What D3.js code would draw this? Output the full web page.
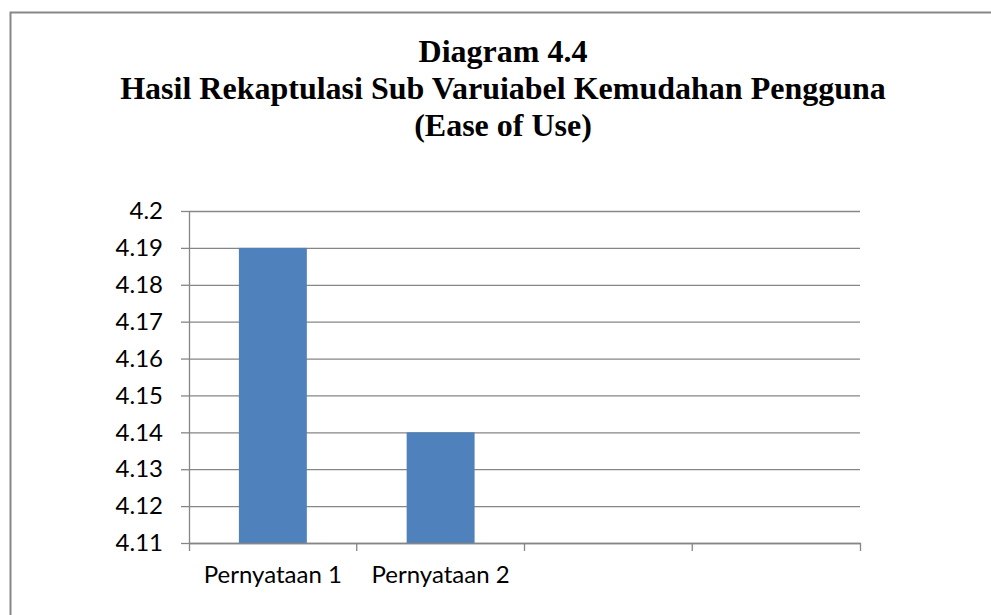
<!DOCTYPE html>
<html>
<head>
<meta charset="utf-8">
<script src="https://cdn.jsdelivr.net/npm/d3@7"></script>
<style>
  html, body { margin: 0; padding: 0; background: #fff; overflow: hidden; }
</style>
</head>
<body>
<div id="chart"></div>
<script>
// chart data
const titleLines = ["Diagram 4.4", "Hasil Rekaptulasi Sub Varuiabel Kemudahan Pengguna", "(Ease of Use)"];
const categories = ["Pernyataan 1", "Pernyataan 2", "slot 3", "slot 4"];
const categoryLabels = ["Pernyataan 1", "Pernyataan 2", "", ""];
const values = [4.19, 4.14, null, null];
const yTicks = [4.11, 4.12, 4.13, 4.14, 4.15, 4.16, 4.17, 4.18, 4.19, 4.2];

// dimensions
const width = 991, height = 615;
const margin = {top: 211, right: 131, bottom: 72, left: 189};

const svg = d3.select("#chart").append("svg")
  .attr("width", width)
  .attr("height", height);

// outer frame (runs off the right and bottom edge like the original)
svg.append("rect")
  .attr("x", 10.5).attr("y", 12.5)
  .attr("width", 1100).attr("height", 800)
  .attr("fill", "none")
  .attr("stroke", "#878787")
  .attr("stroke-width", 2);

// title
svg.append("g")
  .selectAll("text")
  .data(titleLines)
  .join("text")
    .attr("x", 503)
    .attr("y", (d, i) => 62 + i * 37)
    .attr("text-anchor", "middle")
    .attr("font-family", "'Liberation Serif', 'Times New Roman', serif")
    .attr("font-weight", "bold")
    .attr("font-size", 32)
    .attr("fill", "#000")
    .text(d => d);

const x = d3.scaleBand()
  .domain(categories)
  .range([margin.left, width - margin.right])
  .padding(0);

const y = d3.scaleLinear()
  .domain([4.11, 4.2])
  .range([height - margin.bottom, margin.top]);

const gridColor = "#868686";
const fontSans = "Lato, 'Open Sans', sans-serif";

// horizontal grid lines
svg.append("g")
  .attr("transform", `translate(${margin.left},0)`)
  .call(d3.axisLeft(y).tickValues(yTicks).tickSize(-(width - margin.right - margin.left)).tickFormat(""))
  .call(g => g.select(".domain").remove())
  .call(g => g.selectAll(".tick line").attr("stroke", gridColor).attr("stroke-width", 1.3));

// bars
const barFrac = 0.405;
svg.append("g")
  .selectAll("rect")
  .data(categories.map((c, i) => ({c, v: values[i]})).filter(d => d.v != null))
  .join("rect")
    .attr("x", d => x(d.c) + x.bandwidth() * (1 - barFrac) / 2)
    .attr("width", x.bandwidth() * barFrac)
    .attr("y", d => y(d.v))
    .attr("height", d => y(4.11) - y(d.v))
    .attr("fill", "#4f81bd");

// y axis
svg.append("g")
  .attr("transform", `translate(${margin.left},0)`)
  .call(d3.axisLeft(y).tickValues(yTicks).tickSize(8).tickSizeOuter(0).tickPadding(18)
    .tickFormat(d => String(+d.toFixed(2))))
  .call(g => g.select(".domain").attr("stroke", gridColor).attr("stroke-width", 1.3))
  .call(g => g.selectAll(".tick line").attr("stroke", gridColor).attr("stroke-width", 1.3))
  .call(g => g.selectAll("text")
    .attr("font-family", fontSans).attr("font-size", 24).attr("fill", "#000"));

// x axis
const xAxisG = svg.append("g")
  .attr("transform", `translate(0,${height - margin.bottom})`)
  .call(d3.axisBottom(x).tickSize(0).tickSizeOuter(8)
    .tickFormat((d, i) => categoryLabels[i]))
  .call(g => g.select(".domain").attr("stroke", gridColor).attr("stroke-width", 1.3))
  .call(g => g.selectAll("text")
    .attr("y", 40).attr("dy", null)
    .attr("font-family", fontSans).attr("font-size", 24).attr("fill", "#000"));

// category boundary ticks
xAxisG.append("g")
  .selectAll("line")
  .data(categories.slice(1))
  .join("line")
    .attr("x1", d => x(d)).attr("x2", d => x(d))
    .attr("y1", 0).attr("y2", 8)
    .attr("stroke", gridColor)
    .attr("stroke-width", 1.3);
</script>
</body>
</html>
